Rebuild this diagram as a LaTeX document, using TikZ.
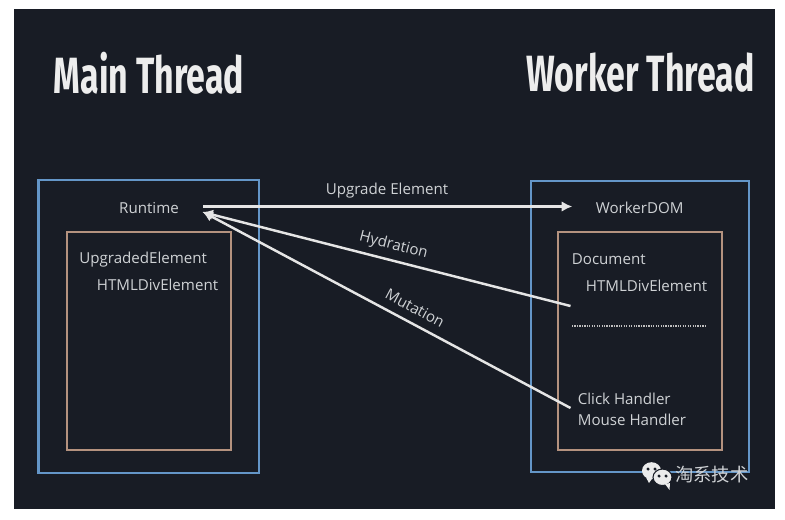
\documentclass[tikz,border=0pt]{standalone}
\usepackage{fontspec}
\setmainfont{Open Sans}
\newfontfamily\titlefont{Fira Sans}
\newfontfamily\cjkfont{Noto Sans CJK SC}
\usepackage{tikz}
\usetikzlibrary{arrows.meta}
\definecolor{slidebg}{HTML}{181C25}
\definecolor{threadblue}{HTML}{6496C8}
\definecolor{docbrown}{HTML}{B4927F}
\definecolor{lbltext}{HTML}{CFD2D5}
\tikzset{
  slide/.style     = {draw=none, fill=slidebg},
  threadbox/.style = {draw=threadblue, line width=1.6pt},
  docbox/.style    = {draw=docbrown, line width=1.6pt},
  heading/.style   = {font=\titlefont\bfseries\fontsize{29}{29}\selectfont, text=white!93!black, xscale=0.665, transform shape, inner sep=0pt},
  lbl/.style       = {font=\fontsize{8.6}{10}\selectfont, text=lbltext, inner sep=0pt},
  lblw/.style      = {lbl, anchor=west},
  msg/.style       = {-{Latex[length=6pt,width=6pt]}, draw=white!90!black, line width=1.4pt, shorten >=-1pt},
  sepline/.style   = {draw=white!75!black, line width=0.7pt, dash pattern=on 0.7pt off 0.7pt},
  bubble/.style    = {fill=white!92!black, draw=none},
  eye/.style       = {circle, fill=slidebg, inner sep=0.7pt},
}

\begin{document}
\begin{tikzpicture}[x=1cm,y=1cm]
  \useasboundingbox (0,0) rectangle (15.7,10.38);
  \draw[slide] (0.28,0.2) rectangle (15.5,10.2);

  % titles
  \node[heading] (mainhdr) at (2.98,8.92) {Main Thread};
  \node[heading] (workerhdr) at (12.81,8.92) {Worker Thread};

  % ---- left: main thread ----
  \draw[threadbox] (0.77,0.92) rectangle (5.18,6.78);
  \draw[docbox] (1.34,1.38) rectangle (4.62,5.74);
  \node[lbl] (runtime) at (2.98,6.22) {Runtime};
  \node[lblw] (upgraded) at (1.58,5.18) {UpgradedElement};
  \node[lblw] (maindiv) at (1.93,4.68) {HTMLDivElement};

  % ---- right: worker thread ----
  \draw[threadbox] (10.62,0.94) rectangle (14.98,6.76);
  \draw[docbox] (11.16,1.38) rectangle (14.44,5.74);
  \node[lblw] (workerdom) at (11.91,6.22) {WorkerDOM};
  \node[lblw] (document) at (11.43,5.2) {Document};
  \node[lblw] (workerdiv) at (11.71,4.66) {HTMLDivElement};
  \coordinate (sepl) at (11.44,3.86);
  \coordinate (sepr) at (14.14,3.86);
  \draw[sepline] (sepl) -- (sepr);
  \node[lblw] (click) at (11.55,2.4) {Click Handler};
  \node[lblw] (mouse) at (11.55,1.98) {Mouse Handler};

  % connectors
  \coordinate (rtout) at (4.06,6.25);
  \coordinate (rtin) at (4.08,6.13);
  \coordinate (wdomin) at (11.41,6.25);
  \coordinate (hydfrom) at (11.41,4.26);
  \coordinate (mutfrom) at (11.41,2.22);
  \draw[msg] (rtout) -- (wdomin);
  \draw[msg] (hydfrom) -- (rtin);
  \draw[msg] (mutfrom) -- (rtin);
  \node[lbl] (upgradelbl) at (7.74,6.56) {Upgrade Element};
  \node[lbl, rotate=-14.3] (hydlbl) at (7.87,5.47) {Hydration};
  \node[lbl, rotate=-28] (mutlbl) at (8.3,4.22) {Mutation};

  % watermark
  \fill[bubble] (13.03,0.966) ellipse (0.19 and 0.17);
  \fill[bubble] (12.92,0.83) -- (12.98,0.72) -- (13.06,0.83) -- cycle;
  \node[eye] (eyea) at (12.96,1.0) {};
  \node[eye] (eyeb) at (13.1,1.0) {};
  \draw[bubble, draw=slidebg, line width=0.6pt] (13.25,0.834) ellipse (0.19 and 0.165);
  \fill[bubble] (13.3,0.7) -- (13.39,0.58) -- (13.4,0.72) -- cycle;
  \node[eye] (eyec) at (13.18,0.86) {};
  \node[eye] (eyed) at (13.32,0.86) {};
  \node[font=\cjkfont\fontsize{10.4}{12}\selectfont, text=lbltext, anchor=west, inner sep=0pt] (wmark) at (13.5,0.88) {淘系技术};
\end{tikzpicture}
\end{document}
